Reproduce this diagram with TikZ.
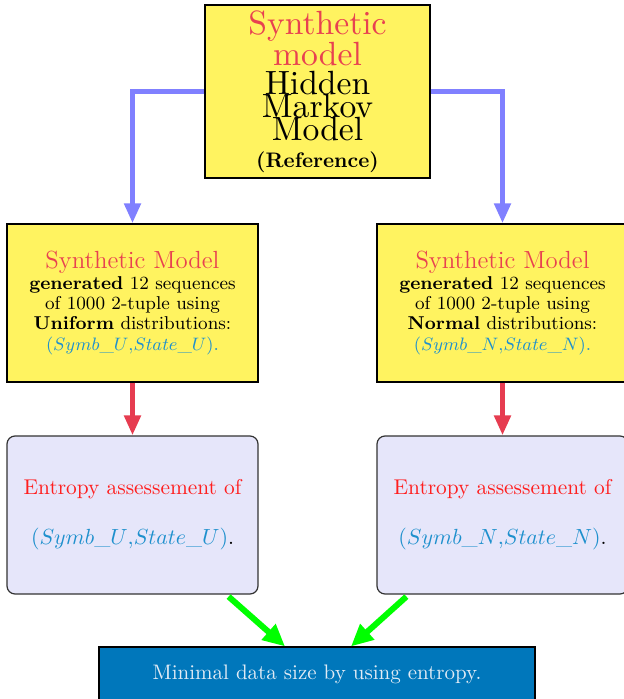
\documentclass[tikz,border=0pt]{standalone}
\usepackage{fontspec}
\newfontfamily\lmten{lmroman10-regular.otf}
\usetikzlibrary{arrows.meta,calc}
\definecolor{boxyellow}{RGB}{255,243,96}
\definecolor{titlered}{RGB}{232,65,80}
\definecolor{entred}{RGB}{255,30,30}
\definecolor{mathblue}{RGB}{30,144,205}
\definecolor{lav}{RGB}{230,230,250}
\definecolor{botblue}{RGB}{0,119,187}
\definecolor{bottext}{RGB}{225,235,245}
\definecolor{arrblue}{RGB}{128,128,255}
\definecolor{arrred}{RGB}{230,60,80}
\definecolor{arrgreen}{RGB}{0,255,0}
\tikzset{
  yellowbox/.style={draw=black,line width=0.7pt,fill=boxyellow,align=center,inner sep=0pt},
  entbox/.style={draw=black!80,line width=0.6pt,fill=lav,rounded corners=4pt,align=center,inner sep=0pt,
     minimum width=125.5pt,minimum height=79pt},
  botbox/.style={draw=black,line width=0.6pt,fill=botblue,text=bottext,align=center,inner sep=0pt,
     minimum width=218pt,minimum height=27pt},
  bluearrow/.style={draw=arrblue,line width=2.5pt,-{Triangle[length=10pt,width=8pt]}},
  redarrow/.style={draw=arrred,line width=2.5pt,-{Triangle[length=10pt,width=8pt]}},
  greenarrow/.style={draw=arrgreen,line width=3pt,-{Triangle[length=11pt,width=10pt]}},
}
\begin{document}
\lineskiplimit=-30pt
\lineskip=0pt
\begin{tikzpicture}[x=0.5pt,y=-0.5pt]
\useasboundingbox (0,0) rectangle (624,699);
\node[yellowbox,minimum width=112.5pt,minimum height=86.5pt,
  font=\lmten\fontsize{16.8}{11.5}\selectfont] (top) at (317.5,91.5)
  {\textcolor{titlered}{Synthetic}\\[4pt]
   \textcolor{titlered}{model}\\[3pt]
   Hidden\\
   Markov\\
   Model\\[2pt]
   {\rmfamily\fontsize{10.5}{12}\selectfont\bfseries (Reference)}};
\node[yellowbox,minimum width=125.5pt,minimum height=79pt,
  font=\fontsize{9.3}{10.2}\selectfont] (l1) at (132.5,303)
  {{\fontsize{12.4}{13}\selectfont\color{titlered}Synthetic Model}\\
   \textbf{generated} 12 sequences\\
   of 1000 2-tuple using\\
   \textbf{Uniform} distributions:\\
   {\color{mathblue}$(Symb\_U{,}State\_U)$.}};
\node[yellowbox,minimum width=125.5pt,minimum height=79pt,
  font=\fontsize{9.3}{10.2}\selectfont] (r1) at (502.5,303)
  {{\fontsize{12.4}{13}\selectfont\color{titlered}Synthetic Model}\\
   \textbf{generated} 12 sequences\\
   of 1000 2-tuple using\\
   \textbf{Normal} distributions:\\
   {\color{mathblue}$(Symb\_N{,}State\_N)$.}};
\node[entbox,font=\fontsize{10.7}{12.5}\selectfont] (l2) at (132.5,515)
  {\textcolor{entred}{Entropy assessement of}\\[12.5pt]
   \textcolor{mathblue}{$(Symb\_U{,}State\_U)$}.};
\node[entbox,font=\fontsize{10.7}{12.5}\selectfont] (r2) at (502.5,515)
  {\textcolor{entred}{Entropy assessement of}\\[12.5pt]
   \textcolor{mathblue}{$(Symb\_N{,}State\_N)$}.};
\node[botbox,font=\fontsize{10.5}{12}\selectfont] (bot) at (317,674)
  {Minimal data size by using entropy.};
\draw[bluearrow] (top.west) -| (l1.north);
\draw[bluearrow] (top.east) -| (r1.north);
\draw[redarrow] (l1.south) -- (l2.north);
\draw[redarrow] (r1.south) -- (r2.north);
\draw[greenarrow] ([xshift=-15pt,yshift=-1pt]l2.south east) -- ([xshift=-16pt]bot.north);
\draw[greenarrow] ([xshift=15pt,yshift=-1pt]r2.south west) -- ([xshift=17pt]bot.north);
\end{tikzpicture}
\end{document}
